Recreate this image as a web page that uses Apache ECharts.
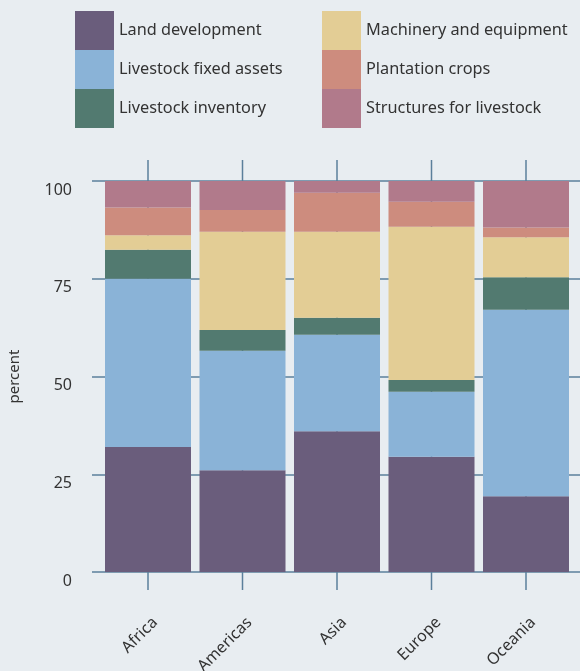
<!DOCTYPE html>
<html>
<head>
<meta charset="utf-8">
<script src="https://cdn.jsdelivr.net/npm/echarts@6/dist/echarts.min.js"></script>
<style>
  html, body { margin: 0; padding: 0; background: #e8edf1; }
  #chart { width: 580px; height: 671px; }
</style>
</head>
<body>
<div id="chart"></div>
<script>
// Regions along the x axis
const regions = ['Africa', 'Americas', 'Asia', 'Europe', 'Oceania'];

// Share of each investment component, percent (stacks to 100)
const landDevelopment = [32.0, 26.0, 36.0, 29.5, 19.4];
const livestockFixedAssets = [43.0, 30.6, 24.7, 16.6, 47.7];
const livestockInventory = [7.4, 5.3, 4.3, 3.0, 8.3];
const machineryEquipment = [3.7, 25.1, 22.0, 39.2, 10.2];
const plantationCrops = [7.1, 5.6, 10.0, 6.4, 2.5];
const structuresLivestock = [6.8, 7.4, 3.0, 5.3, 11.9];

const yTicks = [0, 25, 50, 75, 100];

const seriesDefs = [
  { name: 'Land development', data: landDevelopment, color: '#6a5d7c' },
  { name: 'Livestock fixed assets', data: livestockFixedAssets, color: '#8ab3d7' },
  { name: 'Livestock inventory', data: livestockInventory, color: '#527a70' },
  { name: 'Machinery and equipment', data: machineryEquipment, color: '#e3cd95' },
  { name: 'Plantation crops', data: plantationCrops, color: '#cd8c7e' },
  { name: 'Structures for livestock', data: structuresLivestock, color: '#b17a8b' }
];

const lineColor = '#5b7f9b';
const textColor = '#333333';
const font = 'Noto Sans';

const chart = echarts.init(document.getElementById('chart'), null, { renderer: 'canvas' });

const legendBase = {
  orient: 'vertical',
  top: 11,
  padding: 0,
  itemWidth: 39,
  itemHeight: 39,
  itemGap: 0,
  icon: 'rect',
  selectedMode: false,
  textStyle: { color: textColor, fontSize: 16.3, fontFamily: font, padding: [3, 0, 0, 0] }
};

// every grid keeps its exact box, regardless of label overflow
const gridBox = (left, right, top, bottom) =>
  ({ left, right, top, bottom, outerBoundsMode: 'none', containLabel: false });

chart.setOption({
  backgroundColor: '#e8edf1',
  animation: false,
  legend: [
    Object.assign({}, legendBase, { left: 75, data: seriesDefs.slice(0, 3).map(s => s.name) }),
    Object.assign({}, legendBase, { left: 322, data: seriesDefs.slice(3).map(s => s.name) })
  ],
  grid: [
    // bars
    gridBox(100.75, 6.75, 181, 99),
    // horizontal reference lines and y labels
    gridBox(92, 0, 181, 99),
    // vertical reference lines at each region
    gridBox(100.75, 6.75, 160, 81),
    // region names, set slightly right of each column
    gridBox(107.75, -0.25, 181, 99)
  ],
  xAxis: [
    {
      gridIndex: 0, type: 'category', data: regions,
      axisLine: { show: false }, axisTick: { show: false }, splitLine: { show: false },
      axisLabel: { show: false }
    },
    {
      gridIndex: 1, type: 'value', min: 0, max: 1, show: false
    },
    {
      gridIndex: 2, type: 'category', data: regions,
      axisLine: { show: false }, axisTick: { show: false }, axisLabel: { show: false },
      splitLine: { show: false }
    },
    {
      gridIndex: 3, type: 'category', data: regions,
      axisLine: { show: false }, axisTick: { show: false }, splitLine: { show: false },
      axisLabel: { rotate: 45, margin: 48, color: textColor, fontSize: 16, fontFamily: font }
    }
  ],
  yAxis: [
    {
      gridIndex: 0, type: 'value', min: 0, max: 100, interval: 25,
      axisLine: { show: false }, axisTick: { show: false }, axisLabel: { show: false },
      splitLine: { show: false }
    },
    {
      gridIndex: 1, type: 'value', min: 0, max: 100, interval: 25,
      name: 'percent', nameLocation: 'middle', nameGap: 70, nameRotate: 90,
      nameTextStyle: { color: textColor, fontSize: 15, fontFamily: font },
      axisLine: { show: false }, axisTick: { show: false },
      axisLabel: { margin: 20, color: textColor, fontSize: 16, fontFamily: font,
        verticalAlign: 'top', lineHeight: 18,
        formatter: v => (yTicks.indexOf(v) >= 0 ? String(v) : '') },
      splitLine: { show: true, lineStyle: { color: lineColor, width: 1.5 } }
    },
    {
      gridIndex: 2, type: 'value', min: 0, max: 1, show: false
    },
    {
      gridIndex: 3, type: 'value', min: 0, max: 1, show: false
    }
  ],
  series: [
    // helper that carries the vertical reference lines
    {
      type: 'custom', xAxisIndex: 2, yAxisIndex: 2, silent: true, z: 0,
      data: regions.map((r, i) => [i]),
      renderItem: (params, api) => {
        const top = api.coord([api.value(0), 1]);
        const bottom = api.coord([api.value(0), 0]);
        return {
          type: 'line',
          shape: { x1: top[0], y1: top[1], x2: bottom[0], y2: bottom[1] },
          style: { stroke: lineColor, lineWidth: 1.5 }
        };
      }
    },
    // keeps the label axis in use
    {
      type: 'scatter', xAxisIndex: 3, yAxisIndex: 3, silent: true,
      symbolSize: 0, data: []
    }
  ].concat(seriesDefs.map(s => ({
    name: s.name,
    type: 'bar',
    stack: 'total',
    xAxisIndex: 0,
    yAxisIndex: 0,
    barWidth: 86,
    z: 3,
    itemStyle: { color: s.color },
    data: s.data
  })))
});
</script>
</body>
</html>
